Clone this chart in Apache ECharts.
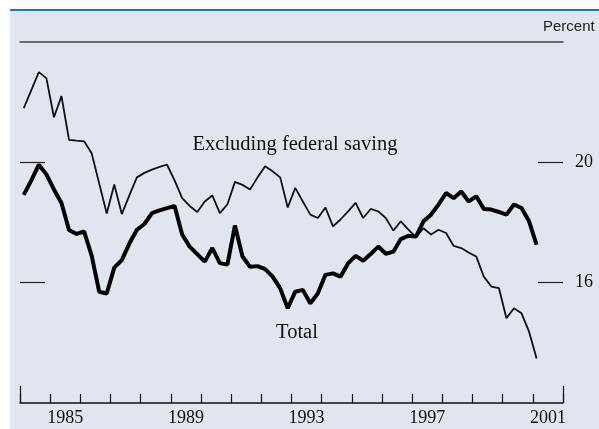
<!DOCTYPE html>
<html lang="en">
<head>
    <meta charset="UTF-8">
    <title>Saving</title>
    <script src="https://cdn.jsdelivr.net/npm/echarts@6/dist/echarts.min.js"></script>
    <style>
        body { margin: 0; background: #fff; }
        .bg {
            position: absolute; left: 10px; top: 9px; width: 589px; height: 420px;
            background: #e1e5ef; border-top: 2px solid #1f78bd;
        }
        .chart { position: absolute; left: 0; top: 0; width: 599px; height: 429px; }
    </style>
</head>
<body>
    <div class="bg"></div>
    <div class="chart"></div>
<script>
    // quarterly, 1984:Q1 - 2001:Q1, percent
    var startYear = 1984;
    var yearLabels = [1985, 1989, 1993, 1997, 2001];
    var rightTicks = [16, 20];

    var exclFederal = [
        21.8, 22.4, 23.0, 22.8, 21.5, 22.2, 20.75, 20.72, 20.7, 20.3,
        19.3, 18.3, 19.26, 18.28, 18.9, 19.5, 19.65, 19.76, 19.85, 19.92,
        19.4, 18.81, 18.55, 18.35, 18.7, 18.9, 18.31, 18.6, 19.35, 19.25,
        19.1, 19.5, 19.87, 19.7, 19.5, 18.5, 19.15, 18.7, 18.26, 18.15,
        18.5, 17.87, 18.1, 18.37, 18.65, 18.15, 18.45, 18.37, 18.15, 17.73,
        18.04, 17.76, 17.51, 17.81, 17.6, 17.76, 17.65, 17.22, 17.15, 17.0,
        16.87, 16.2, 15.87, 15.82, 14.82, 15.15, 14.98, 14.37, 13.48
    ];
    var total = [
        18.92, 19.4, 19.92, 19.6, 19.1, 18.65, 17.75, 17.62, 17.7, 16.9,
        15.7, 15.64, 16.5, 16.75, 17.3, 17.76, 17.95, 18.31, 18.4, 18.48,
        18.55, 17.6, 17.2, 16.95, 16.7, 17.15, 16.65, 16.6, 17.9, 16.87,
        16.53, 16.55, 16.45, 16.2, 15.81, 15.15, 15.7, 15.76, 15.31, 15.65,
        16.26, 16.31, 16.2, 16.64, 16.89, 16.73, 16.95, 17.2, 16.96, 17.03,
        17.45, 17.56, 17.53, 18.04, 18.26, 18.6, 18.98, 18.81, 19.03, 18.7,
        18.87, 18.45, 18.43, 18.35, 18.26, 18.6, 18.48, 18.04, 17.26
    ];

    function toPairs(arr) {
        var out = [];
        for (var i = 0; i < arr.length; i++) {
            out.push([startYear + (i + 0.5) / 4, arr[i]]);
        }
        return out;
    }

    var serif = 'Liberation Serif';
    var labelCenters = yearLabels.map(function(y) { return y + 0.5; });

    var option = {
        animation: false,
        grid: { left: 20, right: 36, top: 42, height: 361 },
        xAxis: [{
            type: 'value', min: 1984, max: 2002, interval: 1, position: 'bottom',
            axisLine: { lineStyle: { color: '#111', width: 1.5 } },
            axisTick: { inside: true, length: 9, lineStyle: { color: '#111', width: 1.2 } },
            axisLabel: {
                customValues: labelCenters, margin: 6,
                color: '#111', fontFamily: serif, fontSize: 18,
                formatter: function(v) { return Math.floor(v); }
            },
            splitLine: { show: false }
        }, {
            type: 'value', min: 1984, max: 2002, position: 'bottom',
            axisLine: { show: false },
            axisTick: { inside: true, length: 17, customValues: [1984, 2002], lineStyle: { color: '#111', width: 1.2 } },
            axisLabel: { show: false },
            splitLine: { show: false }
        }, {
            type: 'value', min: 1984, max: 2002, position: 'top',
            axisLine: { lineStyle: { color: '#444', width: 1.5 } },
            axisTick: { show: false }, axisLabel: { show: false },
            splitLine: { show: false }
        }],
        yAxis: [{
            type: 'value', min: 12, max: 24, position: 'left',
            axisLine: { show: false },
            axisTick: { show: true, inside: true, length: 25, customValues: rightTicks, lineStyle: { color: '#222', width: 1.2 } },
            axisLabel: { show: false },
            splitLine: { show: false }
        }, {
            type: 'value', min: 12, max: 24, position: 'right',
            axisLine: { show: false },
            axisTick: { show: true, inside: true, length: 25, customValues: rightTicks, lineStyle: { color: '#222', width: 1.2 } },
            axisLabel: { customValues: rightTicks, margin: 12, color: '#111', fontFamily: serif, fontSize: 18 },
            splitLine: { show: false }
        }],
        graphic: [{
            type: 'text', left: 543, top: 19,
            style: { text: 'Percent', fontFamily: 'Liberation Sans', fontSize: 15, fill: '#222' }
        }, {
            type: 'text', x: 295, y: 145,
            style: { text: 'Excluding federal saving', fontFamily: serif, fontSize: 20.5, fill: '#111', align: 'center', verticalAlign: 'middle' }
        }, {
            type: 'text', x: 297, y: 333,
            style: { text: 'Total', fontFamily: serif, fontSize: 20.5, fill: '#111', align: 'center', verticalAlign: 'middle' }
        }],
        series: [{
            name: 'Excluding federal saving', type: 'line', showSymbol: false,
            xAxisIndex: 0, yAxisIndex: 0,
            lineStyle: { color: '#111', width: 1.8 },
            data: toPairs(exclFederal)
        }, {
            name: 'Total', type: 'line', showSymbol: false,
            xAxisIndex: 0, yAxisIndex: 0,
            lineStyle: { color: '#000', width: 4 },
            data: toPairs(total)
        }]
    };

    var myChart = echarts.init(document.querySelector('.chart'));
    myChart.setOption(option);
</script>
</body>
</html>
